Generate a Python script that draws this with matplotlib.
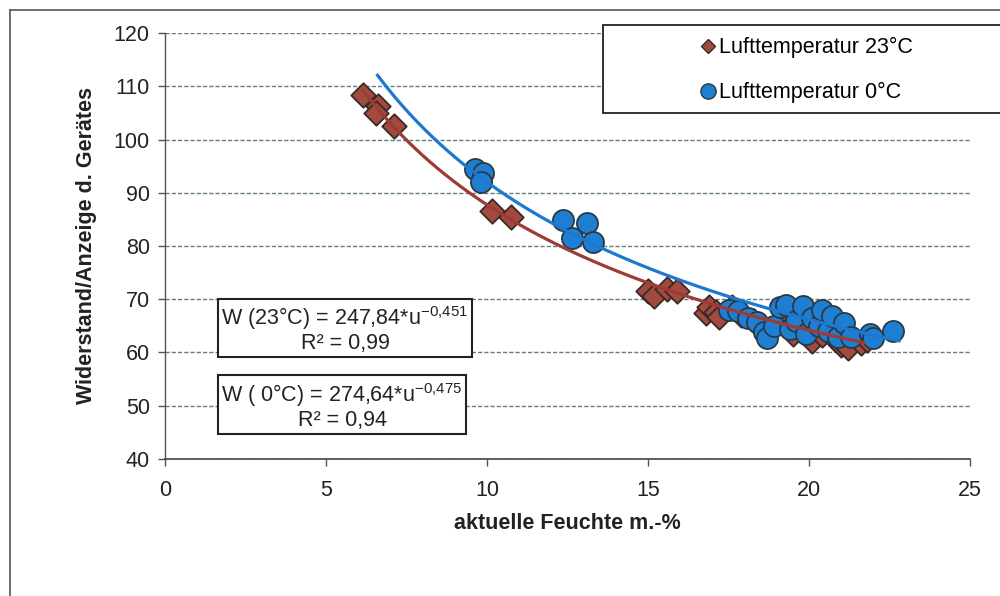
import matplotlib
matplotlib.use("Agg")
import matplotlib.pyplot as plt
import numpy as np
from matplotlib.lines import Line2D

plt.rcParams['font.family'] = ['Liberation Sans', 'DejaVu Sans']
plt.rcParams['mathtext.fontset'] = 'custom'
plt.rcParams['mathtext.rm'] = 'Liberation Sans'
plt.rcParams['mathtext.it'] = 'Liberation Sans'
plt.rcParams['mathtext.default'] = 'regular'

# ---- data ----
x_23 = [6.15, 6.6, 6.55, 7.1, 10.15, 10.75, 15.0, 15.2, 15.6, 15.9, 16.8, 16.9, 17.1,
        17.2, 17.6, 17.9, 18.3, 18.8, 19.2, 19.5, 19.9, 20.1, 20.4, 20.8, 21.0, 21.2,
        21.6, 21.8]
y_23 = [108.4, 106.3, 105.0, 102.6, 86.5, 85.5, 71.5, 70.6, 72.0, 71.6, 67.4, 68.5, 67.6,
        66.6, 68.5, 67.0, 66.0, 64.5, 65.5, 63.5, 64.0, 62.1, 63.2, 62.5, 61.5, 60.8,
        61.8, 62.3]

x_0 = [9.63, 9.88, 9.82, 12.36, 13.1, 12.64, 13.3, 17.5, 17.8, 18.1, 18.4, 18.6, 18.7,
       18.9, 19.1, 19.3, 19.4, 19.6, 19.8, 19.9, 20.1, 20.3, 20.4, 20.6, 20.7, 20.9,
       21.1, 21.3, 21.9, 22.0, 22.6]
y_0 = [94.5, 93.7, 92.0, 84.9, 84.3, 81.5, 80.8, 68.0, 67.8, 66.5, 65.8, 63.8, 62.7,
       65.0, 68.5, 69.0, 64.5, 66.0, 68.8, 63.5, 66.5, 65.0, 68.0, 64.0, 66.8, 63.0,
       65.5, 63.0, 63.5, 62.8, 64.0]

fit_23 = (247.84, -0.451, 6.15, 21.7)
fit_0 = (274.64, -0.475, 6.6, 22.8)

labels = ["Lufttemperatur 23°C", "Lufttemperatur 0°C"]
x_ticks = [0, 5, 10, 15, 20, 25]
y_ticks = [40, 50, 60, 70, 80, 90, 100, 110, 120]

c_red = '#A04A40'
c_blue = '#1E7FD2'
c_red_line = '#9E3B35'
c_blue_line = '#1E78D0'

FS = 15.5

fig = plt.figure(figsize=(10, 5.96), dpi=100)
ax = fig.add_axes([0.165, 0.2299, 0.805, 0.7147])

ax.set_xlim(0, 25)
ax.set_ylim(40, 120)
ax.set_xticks(x_ticks)
ax.set_yticks(y_ticks)

ax.grid(axis='y', color='#5f7f80', linestyle=(0, (3, 1.5)), linewidth=1.0)
ax.set_axisbelow(True)

ax.scatter(x_23, y_23, marker='D', s=155, color=c_red, edgecolor='#3a2a25',
           linewidth=1.3, zorder=3)
ax.scatter(x_0, y_0, marker='o', s=230, color=c_blue, edgecolor='#2a3a45',
           linewidth=1.3, zorder=4)

a, b, u0, u1 = fit_23
u = np.linspace(u0, u1, 200)
ax.plot(u, a * u ** b, color=c_red_line, linewidth=2.3, zorder=5)
a, b, u0, u1 = fit_0
u = np.linspace(u0, u1, 200)
ax.plot(u, a * u ** b, color=c_blue_line, linewidth=2.3, zorder=5)

for s in ['top', 'right']:
    ax.spines[s].set_visible(False)
ax.spines['left'].set_color('#555555')
ax.spines['bottom'].set_color('#444444')
ax.spines['left'].set_linewidth(1.0)
ax.spines['bottom'].set_linewidth(1.2)

ax.tick_params(axis='y', length=5, width=1, color='#555555', pad=6, labelsize=FS,
               labelcolor='#222222')
ax.tick_params(axis='x', length=5, width=1, color='#555555', pad=10, labelsize=FS,
               labelcolor='#222222')

ax.set_xlabel("aktuelle Feuchte m.-%", fontsize=FS, fontweight='bold', labelpad=9,
              color='#222222')
ax.set_ylabel("Widerstand/Anzeige d. Gerätes", fontsize=FS, fontweight='bold',
              labelpad=12, color='#222222')

# equation boxes
box = dict(boxstyle='square,pad=0.15', facecolor='white', edgecolor='#222222',
           linewidth=1.5)
fig.text(0.345, 0.448, "W (23°C) = 247,84*u$^{-0{,}451}$\nR² = 0,99", ha='center',
         va='center', multialignment='center', fontsize=FS, bbox=box,
         color='#222222', zorder=10, linespacing=1.1)
fig.text(0.342, 0.319, "W ( 0°C) = 274,64*u$^{-0{,}475}$\nR² = 0,94", ha='center',
         va='center', multialignment='center', fontsize=FS, bbox=box,
         color='#222222', zorder=10, linespacing=1.1)

# legend box
rect = plt.Rectangle((0.603, 0.810), 0.41, 0.148, transform=fig.transFigure,
                     facecolor='white', edgecolor='#222222', linewidth=1.3,
                     clip_on=False, zorder=8)
fig.add_artist(rect)
handles = [Line2D([], [], marker='D', linestyle='none', markersize=7,
                  markerfacecolor=c_red, markeredgecolor='#3a2a25'),
           Line2D([], [], marker='o', linestyle='none', markersize=11,
                  markerfacecolor=c_blue, markeredgecolor='#2a3a45')]
leg = fig.legend(handles, labels, loc='center', bbox_to_anchor=(0.805, 0.882),
                 frameon=False, fontsize=FS, handletextpad=0.05, handlelength=1.0,
                 labelspacing=1.1)
leg.set_zorder(9)

# outer frame (left and top edges)
fig.add_artist(Line2D([0.010, 0.010], [0.0, 0.983], transform=fig.transFigure,
                      color='#555555', linewidth=1.2))
fig.add_artist(Line2D([0.010, 1.0], [0.983, 0.983], transform=fig.transFigure,
                      color='#555555', linewidth=1.2))

fig.savefig("out.png", dpi=100)
